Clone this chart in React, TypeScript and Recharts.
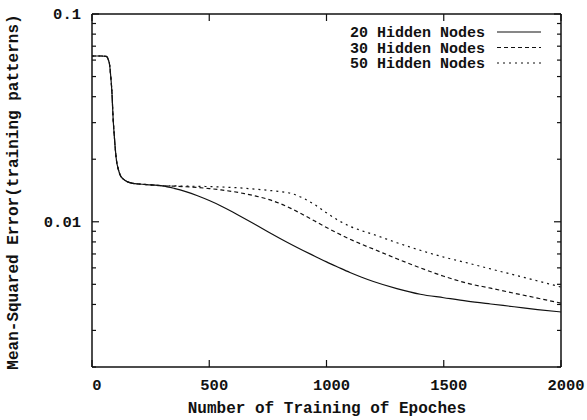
import React from 'react';
import { LineChart, Line, XAxis, YAxis, Legend, Label } from 'recharts';

const epochs = [
  0, 20, 40, 60, 65, 70, 75, 80, 85, 90, 95, 100, 105, 110, 120, 135, 150, 175, 200, 250, 300,
  350, 400, 450, 500, 550, 600, 650, 700, 750, 800, 850, 900, 950, 1000, 1050, 1100, 1150, 1200,
  1300, 1400, 1500, 1600, 1700, 1800, 1900, 2000,
];

// shared start (all three runs overlap up to ~300 epochs)
const start = [
  0.0628, 0.0628, 0.0628, 0.0625, 0.062, 0.06, 0.057, 0.05, 0.042, 0.0315, 0.026, 0.022, 0.0195,
  0.0183, 0.0168, 0.016, 0.0156, 0.0153, 0.0152, 0.01505, 0.0149,
];

const hidden20 = [
  ...start,
  0.01449, 0.01397, 0.01334, 0.01265, 0.01192, 0.01115, 0.01038, 0.00964, 0.00896, 0.00834,
  0.00778, 0.00728, 0.00683, 0.00641, 0.00604, 0.0057, 0.00541, 0.00516, 0.00477, 0.00448,
  0.00431, 0.00415, 0.00402, 0.0039, 0.00378, 0.00368,
];

const hidden30 = [
  ...start,
  0.01483, 0.01474, 0.01462, 0.01445, 0.01424, 0.01398, 0.01366, 0.01328, 0.01284, 0.01226,
  0.01157, 0.01082, 0.01008, 0.00939, 0.00878, 0.00825, 0.00779, 0.00739, 0.00664, 0.006,
  0.00547, 0.00506, 0.00479, 0.00453, 0.00429, 0.00406,
];

const hidden50 = [
  ...start,
  0.01488, 0.01485, 0.01481, 0.01477, 0.01471, 0.01462, 0.0145, 0.01435, 0.01417, 0.01398,
  0.01368, 0.013, 0.01208, 0.01104, 0.01016, 0.00951, 0.00906, 0.00869, 0.00793, 0.00729,
  0.00676, 0.00634, 0.00593, 0.00555, 0.00519, 0.00485,
];

const xTicks = [0, 500, 1000, 1500, 2000];
const yTicks = [
  0.002, 0.003, 0.004, 0.005, 0.006, 0.007, 0.008, 0.009, 0.01,
  0.02, 0.03, 0.04, 0.05, 0.06, 0.07, 0.08, 0.09, 0.1,
];
const yLabelled = [0.01, 0.1];

const series = [
  { key: 'h20', name: '20 Hidden Nodes', dash: undefined as string | undefined },
  { key: 'h30', name: '30 Hidden Nodes', dash: '4 3' },
  { key: 'h50', name: '50 Hidden Nodes', dash: '2 4' },
];

const data = epochs.map((e, i) => ({ epoch: e, h20: hidden20[i], h30: hidden30[i], h50: hidden50[i] }));

const FONT = '"Liberation Mono", "DejaVu Sans Mono", monospace';
const INK = '#111';

const BottomTick = ({ x, y, payload }: any) => (
  <g>
    <line x1={x} x2={x} y1={y} y2={y - 7} stroke={INK} strokeWidth={1.2} />
    <text x={x + 5} y={y + 23} textAnchor="middle" fontFamily={FONT} fontWeight="bold" fontSize={15.5} fill={INK}>
      {payload.value}
    </text>
  </g>
);

const TopTick = ({ x, y }: any) => <line x1={x} x2={x} y1={y} y2={y + 7} stroke={INK} strokeWidth={1.2} />;

const LeftTick = ({ x, y, payload }: any) => {
  const major = yLabelled.includes(payload.value);
  return (
    <g>
      <line x1={x} x2={x + (major ? 7 : 4)} y1={y} y2={y} stroke={INK} strokeWidth={1.2} />
      {major && (
        <text x={x - 11} y={y + 5} textAnchor="end" fontFamily={FONT} fontWeight="bold" fontSize={15.5} fill={INK}>
          {payload.value}
        </text>
      )}
    </g>
  );
};

const RightTick = ({ x, y, payload }: any) => {
  const major = yLabelled.includes(payload.value);
  return <line x1={x} x2={x - (major ? 7 : 4)} y1={y} y2={y} stroke={INK} strokeWidth={1.2} />;
};

const LegendBox = () => (
  <svg width={260} height={60} style={{ overflow: 'visible' }}>
    {series.map((s, i) => (
      <g key={s.key}>
        <text x={185} y={17 + i * 15.5} textAnchor="end" fontFamily={FONT} fontWeight="bold" fontSize={15} fill={INK}>
          {s.name}
        </text>
        <line x1={197} x2={241} y1={12 + i * 15.5} y2={12 + i * 15.5} stroke={INK} strokeWidth={1.2} strokeDasharray={s.dash} />
      </g>
    ))}
  </svg>
);

export default function App() {
  return (
    <div style={{ width: 587, height: 420 }}>
      <style>{'body{margin:0;background:#fff}'}</style>
      <LineChart width={587} height={420} data={data} margin={{ top: 0, right: 0, bottom: 0, left: 0 }}>
        <XAxis
          dataKey="epoch"
          type="number"
          domain={[0, 2000]}
          ticks={xTicks}
          interval={0}
          height={53}
          tickSize={0}
          tickMargin={0}
          tickLine={false}
          tick={<BottomTick />}
          axisLine={{ stroke: INK, strokeWidth: 1.5 }}
          allowDataOverflow
        >
          <Label
            content={() => (
              <text x={327} y={413} textAnchor="middle" fontFamily={FONT} fontWeight="bold" fontSize={16} fill={INK}>
                Number of Training of Epoches
              </text>
            )}
          />
        </XAxis>
        <XAxis
          xAxisId="top"
          orientation="top"
          dataKey="epoch"
          type="number"
          domain={[0, 2000]}
          ticks={xTicks}
          interval={0}
          height={14}
          tickSize={0}
          tickMargin={0}
          tickLine={false}
          tick={<TopTick />}
          axisLine={{ stroke: INK, strokeWidth: 1.5 }}
          allowDataOverflow
        />
        <YAxis
          type="number"
          scale="log"
          domain={[0.002, 0.1]}
          ticks={yTicks}
          interval={0}
          width={92}
          tickSize={0}
          tickMargin={0}
          tickLine={false}
          tick={<LeftTick />}
          axisLine={{ stroke: INK, strokeWidth: 1.5 }}
          allowDataOverflow
        >
          <Label
            content={() => (
              <text
                transform="translate(18,192) rotate(-90)"
                textAnchor="middle"
                fontFamily={FONT}
                fontWeight="bold"
                fontSize={16}
                fill={INK}
              >
                Mean-Squared Error(training patterns)
              </text>
            )}
          />
        </YAxis>
        <YAxis
          yAxisId="right"
          orientation="right"
          type="number"
          scale="log"
          domain={[0.002, 0.1]}
          ticks={yTicks}
          interval={0}
          width={26}
          tickSize={0}
          tickMargin={0}
          tickLine={false}
          tick={<RightTick />}
          axisLine={{ stroke: INK, strokeWidth: 1.5 }}
          allowDataOverflow
        />
        <Legend
          layout="horizontal"
          verticalAlign="middle"
          align="center"
          content={<LegendBox />}
          wrapperStyle={{ position: 'absolute', left: 300, top: 20, width: 260, height: 60 }}
        />
        {series.map((s) => (
          <Line
            key={s.key}
            dataKey={s.key}
            name={s.name}
            type="monotone"
            stroke={INK}
            strokeWidth={1.2}
            strokeDasharray={s.dash}
            dot={false}
            activeDot={false}
            isAnimationActive={false}
          />
        ))}
      </LineChart>
    </div>
  );
}
